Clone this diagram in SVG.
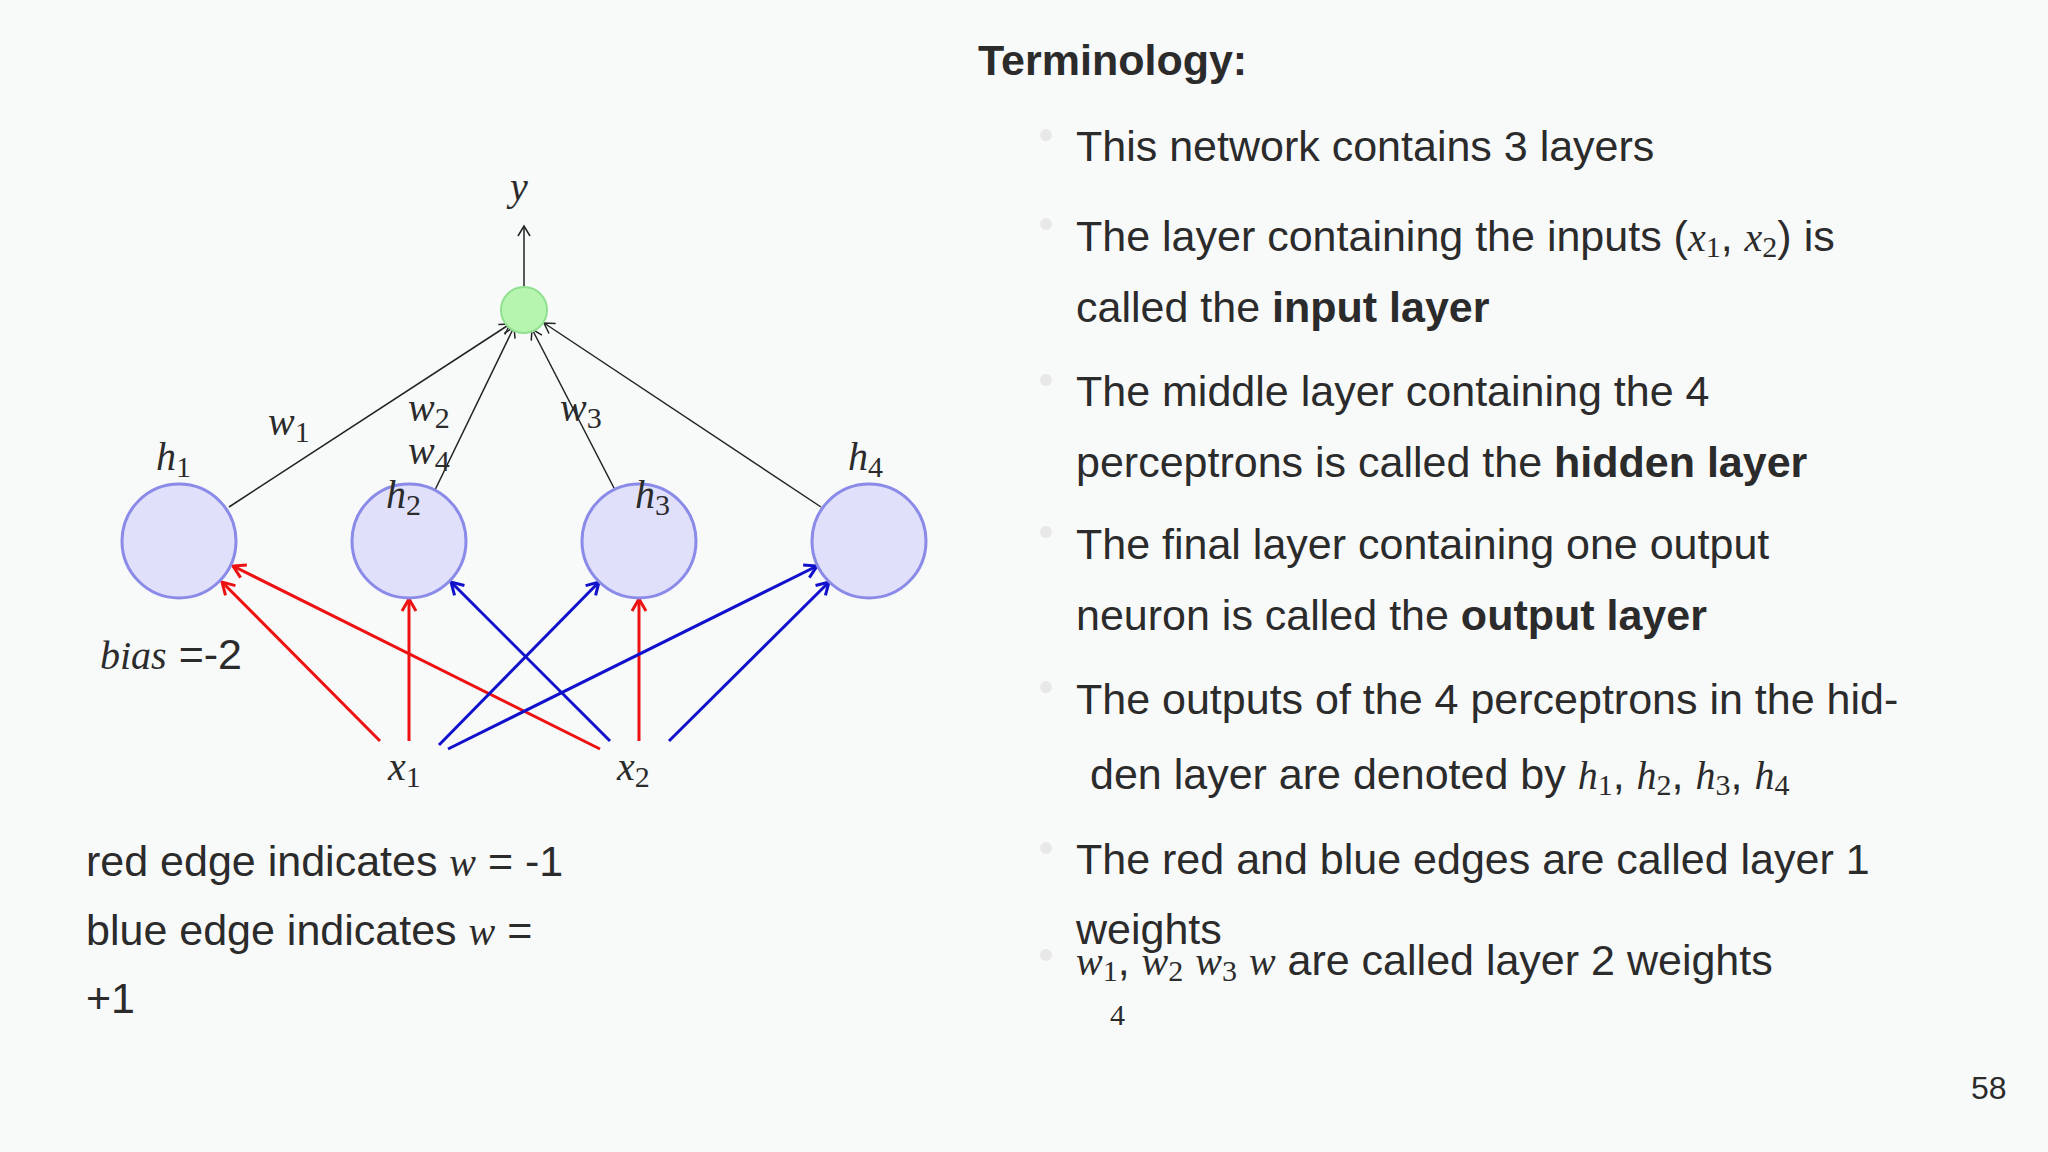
<svg xmlns="http://www.w3.org/2000/svg" width="2048" height="1152" viewBox="0 0 2048 1152">
<defs>
<style>
.t{font-family:"Liberation Sans",Arial,sans-serif;font-size:43px;fill:#2b2b2b}
.m{font-family:"Liberation Serif","DejaVu Serif",serif;font-style:italic;font-size:40px;fill:#2b2b2b}
.s{font-size:30px;font-style:normal}
.b{font-weight:bold}
.node{fill:#e0e0fb;stroke:#8a8ae8;stroke-width:3}
.k{stroke:#222;stroke-width:1.5;fill:none}
.r{stroke:#ee1111;stroke-width:3;fill:none}
.u{stroke:#1111cc;stroke-width:3;fill:none}
.dot{fill:#e8e8e8}
</style>
<marker id="ak" markerWidth="14" markerHeight="14" refX="12" refY="7" orient="auto" markerUnits="userSpaceOnUse"><path d="M2,1 L12,7 L2,13" fill="none" stroke="#222" stroke-width="1.5"/></marker>
<marker id="ar" markerWidth="18" markerHeight="18" refX="15" refY="9" orient="auto" markerUnits="userSpaceOnUse"><path d="M3,2 L15,9 L3,16" fill="none" stroke="#ee1111" stroke-width="3"/></marker>
<marker id="au" markerWidth="18" markerHeight="18" refX="15" refY="9" orient="auto" markerUnits="userSpaceOnUse"><path d="M3,2 L15,9 L3,16" fill="none" stroke="#1111cc" stroke-width="3"/></marker>
</defs>
<rect width="2048" height="1152" fill="#f8f9f9"/>
<g id="connectors">
<line class="k" x1="524" y1="287" x2="524" y2="226" marker-end="url(#ak)"/>
<line class="k" x1="229" y1="507" x2="510" y2="324" marker-end="url(#ak)"/>
<line class="k" x1="435" y1="490" x2="514" y2="327" marker-end="url(#ak)"/>
<line class="k" x1="614" y1="488" x2="532" y2="329" marker-end="url(#ak)"/>
<line class="k" x1="821" y1="507" x2="544" y2="323" marker-end="url(#ak)"/>
<line class="r" x1="380" y1="741" x2="222" y2="582" marker-end="url(#ar)"/>
<line class="r" x1="409" y1="741" x2="409" y2="599" marker-end="url(#ar)"/>
<line class="r" x1="600" y1="749" x2="233" y2="566" marker-end="url(#ar)"/>
<line class="r" x1="639" y1="741" x2="639" y2="599" marker-end="url(#ar)"/>
<line class="u" x1="439" y1="745" x2="599" y2="582" marker-end="url(#au)"/>
<line class="u" x1="448" y1="749" x2="817" y2="566" marker-end="url(#au)"/>
<line class="u" x1="610" y1="741" x2="451" y2="582" marker-end="url(#au)"/>
<line class="u" x1="669" y1="741" x2="829" y2="582" marker-end="url(#au)"/>
</g>
<g id="out"><circle cx="524" cy="310" r="23" fill="#b6f5b0" stroke="#90e090" stroke-width="2"/></g>
<g id="h1"><circle class="node" cx="179" cy="541" r="57"/></g>
<g id="h2"><circle class="node" cx="409" cy="541" r="57"/></g>
<g id="h3"><circle class="node" cx="639" cy="541" r="57"/></g>
<g id="h4"><circle class="node" cx="869" cy="541" r="57"/></g>
<g id="labels">
<text class="m" x="510" y="200">y</text>
<text class="m" x="268" y="435">w<tspan class="s" dy="7">1</tspan></text>
<text class="m" x="408" y="421">w<tspan class="s" dy="7">2</tspan></text>
<text class="m" x="408" y="464">w<tspan class="s" dy="7">4</tspan></text>
<text class="m" x="560" y="421">w<tspan class="s" dy="7">3</tspan></text>
<text class="m" x="156" y="470">h<tspan class="s" dy="7">1</tspan></text>
<text class="m" x="386" y="508">h<tspan class="s" dy="7">2</tspan></text>
<text class="m" x="635" y="508">h<tspan class="s" dy="7">3</tspan></text>
<text class="m" x="848" y="470">h<tspan class="s" dy="7">4</tspan></text>
<text class="m" x="388" y="780">x<tspan class="s" dy="7">1</tspan></text>
<text class="m" x="617" y="780">x<tspan class="s" dy="7">2</tspan></text>
<text class="m" x="100" y="669">bias<tspan class="t" style="font-style:normal"> =-2</tspan></text>
</g>
<g id="left-text">
<text class="t" x="86" y="876">red edge indicates <tspan class="m">w</tspan> = -1</text>
<text class="t" x="86" y="945">blue edge indicates <tspan class="m">w</tspan> =</text>
<text class="t" x="86" y="1013">+1</text>
</g>
<g id="terms">
<text class="t b" x="978" y="75">Terminology:</text>
<circle class="dot" cx="1046" cy="135" r="6"/><circle class="dot" cx="1046" cy="224" r="6"/><circle class="dot" cx="1046" cy="380" r="6"/><circle class="dot" cx="1046" cy="532" r="6"/><circle class="dot" cx="1046" cy="687" r="6"/><circle class="dot" cx="1046" cy="848" r="6"/><circle class="dot" cx="1046" cy="955" r="6"/>
<text class="t" x="1076" y="161">This network contains 3 layers</text>
<text class="t" x="1076" y="251">The layer containing the inputs (<tspan class="m">x</tspan><tspan class="m s" dy="6">1</tspan><tspan dy="-6">, </tspan><tspan class="m">x</tspan><tspan class="m s" dy="6">2</tspan><tspan dy="-6">) is</tspan></text>
<text class="t" x="1076" y="322">called the <tspan class="b">input layer</tspan></text>
<text class="t" x="1076" y="406">The middle layer containing the 4</text>
<text class="t" x="1076" y="477">perceptrons  is called the <tspan class="b">hidden layer</tspan></text>
<text class="t" x="1076" y="559">The final layer containing one output</text>
<text class="t" x="1076" y="630">neuron  is called the <tspan class="b">output layer</tspan></text>
<text class="t" x="1076" y="714">The outputs of the 4 perceptrons in the hid-</text>
<text class="t" x="1090" y="789">den layer are denoted by <tspan class="m">h</tspan><tspan class="m s" dy="6">1</tspan><tspan dy="-6">, </tspan><tspan class="m">h</tspan><tspan class="m s" dy="6">2</tspan><tspan dy="-6">, </tspan><tspan class="m">h</tspan><tspan class="m s" dy="6">3</tspan><tspan dy="-6">, </tspan><tspan class="m">h</tspan><tspan class="m s" dy="6">4</tspan></text>
<text class="t" x="1076" y="874">The  red and blue edges are called layer 1</text>
<text class="t" x="1076" y="944">weights</text>
<text class="t" x="1076" y="975"><tspan class="m">w</tspan><tspan class="m s" dy="6">1</tspan><tspan dy="-6">, </tspan><tspan class="m">w</tspan><tspan class="m s" dy="6">2</tspan><tspan dy="-6"> </tspan><tspan class="m">w</tspan><tspan class="m s" dy="6">3</tspan><tspan dy="-6"> </tspan><tspan class="m">w</tspan> are called layer 2  weights</text>
<text class="m s" x="1110" y="1025">4</text>
<text class="t" x="1971" y="1099" style="font-size:32px">58</text>
</g>
</svg>
